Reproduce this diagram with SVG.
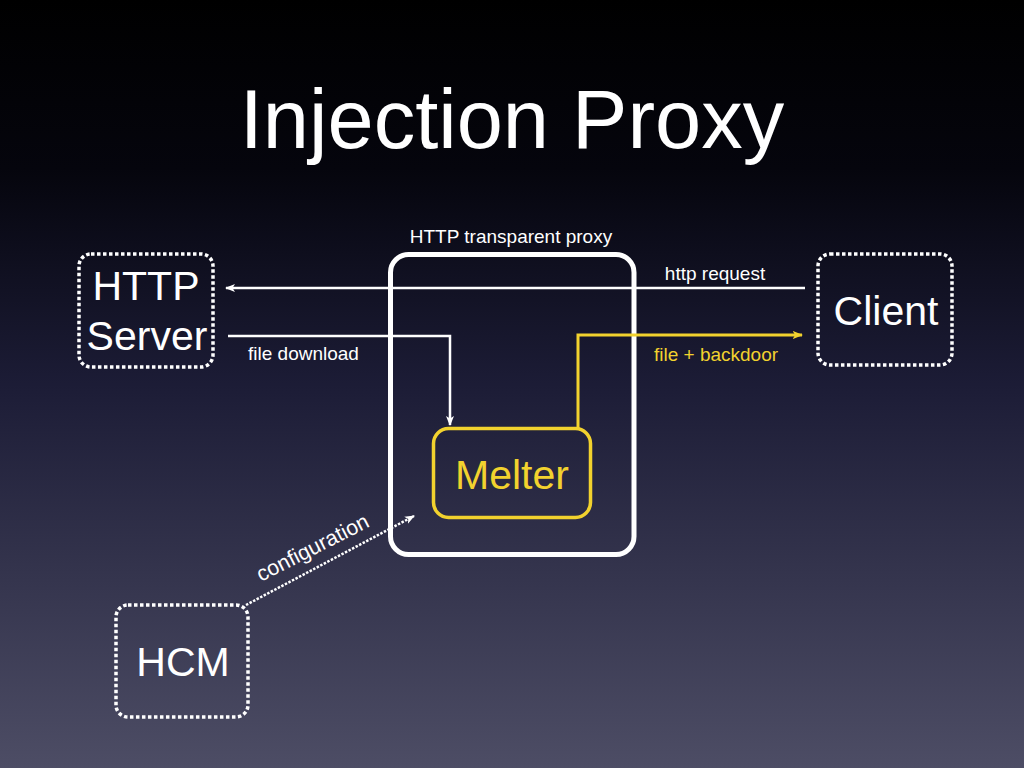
<svg xmlns="http://www.w3.org/2000/svg" width="1024" height="768" viewBox="0 0 1024 768">
  <defs>
    <linearGradient id="bg" x1="0" y1="0" x2="0" y2="1">
      <stop offset="0" stop-color="#000000"/>
      <stop offset="0.22" stop-color="#05050d"/>
      <stop offset="0.5" stop-color="#1c1c36"/>
      <stop offset="1" stop-color="#4d4d65"/>
    </linearGradient>
    <marker id="aw" viewBox="0 0 10 10" refX="9" refY="5" markerWidth="4" markerHeight="4" orient="auto" markerUnits="strokeWidth">
      <path d="M0,1 L10,5 L0,9 L2.5,5 Z" fill="#ffffff"/>
    </marker>
    <marker id="ay" viewBox="0 0 10 10" refX="9" refY="5" markerWidth="3.5" markerHeight="3.5" orient="auto" markerUnits="strokeWidth">
      <path d="M0,1 L10,5 L0,9 L2.5,5 Z" fill="#f2d22e"/>
    </marker>
  </defs>
  <style>
    text { font-family: "Liberation Sans", Arial, sans-serif; }
    .dot { fill: none; stroke: #ffffff; stroke-width: 3.5; stroke-dasharray: 3.5 2.5; }
    .big { fill: #ffffff; font-size: 41px; }
    .lbl { fill: #ffffff; font-size: 19px; }
    .cfg { fill: #ffffff; font-size: 21.5px; }
    .ylbl { fill: #f2d22e; font-size: 19px; }
    .wl { fill: none; stroke: #ffffff; stroke-width: 2.5; }
    .yl { fill: none; stroke: #f2d22e; stroke-width: 3; }
  </style>
  <rect x="0" y="0" width="1024" height="768" fill="url(#bg)"/>
  <text x="512" y="148" text-anchor="middle" fill="#ffffff" font-size="83">Injection Proxy</text>

  <g id="proxy">
    <rect x="390.5" y="254.5" width="243.5" height="300" rx="18" fill="none" stroke="#ffffff" stroke-width="5"/>
    <text class="lbl" x="511" y="243" text-anchor="middle">HTTP transparent proxy</text>
  </g>

  <g id="http-server">
    <rect class="dot" x="79" y="254" width="134" height="113" rx="12"/>
    <text class="big" x="146" y="300" text-anchor="middle">HTTP</text>
    <text class="big" x="147" y="350" text-anchor="middle">Server</text>
  </g>

  <g id="client">
    <rect class="dot" x="818" y="254" width="134" height="111" rx="12"/>
    <text class="big" x="886" y="325" text-anchor="middle">Client</text>
  </g>

  <g id="melter">
    <rect x="433.5" y="428.5" width="157" height="89" rx="15" fill="none" stroke="#f2d22e" stroke-width="3.5"/>
    <text x="512" y="489" text-anchor="middle" fill="#f2d22e" font-size="41">Melter</text>
  </g>

  <g id="hcm">
    <rect class="dot" x="116" y="605" width="132" height="112" rx="12"/>
    <text class="big" x="183" y="676" text-anchor="middle">HCM</text>
  </g>

  <g id="connectors">
    <line class="wl" x1="805" y1="288" x2="226" y2="288" marker-end="url(#aw)"/>
    <text class="lbl" x="715" y="280" text-anchor="middle">http request</text>

    <polyline class="wl" points="228,336 450,336 450,425" marker-end="url(#aw)"/>
    <text class="lbl" x="248" y="360">file download</text>

    <polyline class="yl" points="578,430 578,335 802,335" marker-end="url(#ay)"/>
    <text class="ylbl" x="716" y="361" text-anchor="middle">file + backdoor</text>

    <line x1="246" y1="605" x2="414" y2="516" stroke="#ffffff" stroke-width="2.5" stroke-dasharray="2.5 1.5" marker-end="url(#aw)"/>
    <text class="cfg" x="261" y="582" transform="rotate(-27 261 582)">configuration</text>
  </g>
</svg>
